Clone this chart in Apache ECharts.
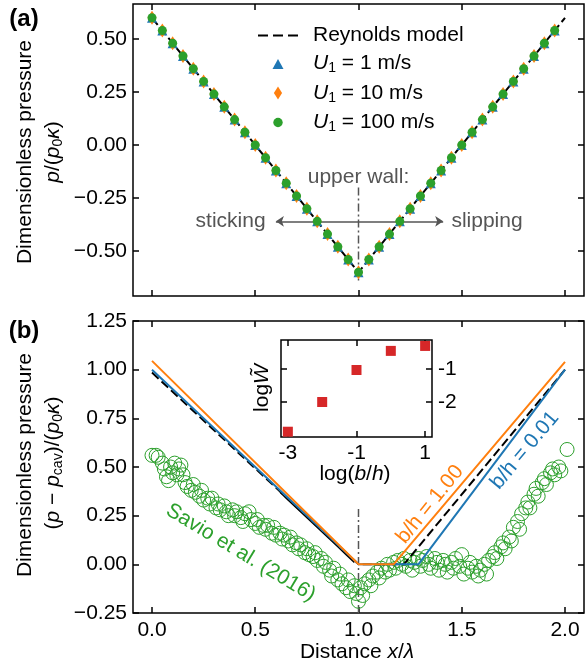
<!DOCTYPE html>
<html>
<head>
<meta charset="utf-8">
<script src="https://cdn.jsdelivr.net/npm/echarts@6.0.0/dist/echarts.min.js"></script>
<style>
html, body { margin: 0; padding: 0; background: #fff; }
#chart { width: 586px; height: 669px; }
</style>
</head>
<body>
<div id="chart"></div>
<script>
// ---- panel (a) data ----
const xA = [0.00,0.05,0.10,0.15,0.20,0.25,0.30,0.35,0.40,0.45,0.50,0.55,0.60,0.65,0.70,0.75,0.80,0.85,0.90,0.95,
            1.00,1.05,1.10,1.15,1.20,1.25,1.30,1.35,1.40,1.45,1.50,1.55,1.60,1.65,1.70,1.75,1.80,1.85,1.90,1.95]
const u1 = [0.60,0.54,0.48,0.42,0.36,0.30,0.24,0.18,0.12,0.06,0.00,-0.06,-0.12,-0.18,-0.24,-0.30,-0.36,-0.42,-0.48,-0.54,
            -0.60,-0.54,-0.48,-0.42,-0.36,-0.30,-0.24,-0.18,-0.12,-0.06,0.00,0.06,0.12,0.18,0.24,0.30,0.36,0.42,0.48,0.54]
const u10 = [0.60,0.54,0.48,0.42,0.36,0.30,0.24,0.18,0.12,0.06,0.00,-0.06,-0.12,-0.18,-0.24,-0.30,-0.36,-0.42,-0.48,-0.54,
             -0.60,-0.54,-0.48,-0.42,-0.36,-0.30,-0.24,-0.18,-0.12,-0.06,0.00,0.06,0.12,0.18,0.24,0.30,0.36,0.42,0.48,0.54]
const u100 = [0.60,0.54,0.48,0.42,0.36,0.30,0.24,0.18,0.12,0.06,0.00,-0.06,-0.12,-0.18,-0.24,-0.30,-0.36,-0.42,-0.48,-0.54,
              -0.60,-0.54,-0.48,-0.42,-0.36,-0.30,-0.24,-0.18,-0.12,-0.06,0.00,0.06,0.12,0.18,0.24,0.30,0.36,0.42,0.48,0.54]
const reynoldsA = [[0, 0.60], [1, -0.60], [2, 0.60]]
const wallA = [[1, -0.20], [1, -0.65]]
const arrowsA = [[[1, -0.36], [0.60, -0.36]], [[1, -0.36], [1.41, -0.36]]]

// ---- panel (b) data ----
const reynoldsB = [[0, 0.985], [1, 0.0], [1.22, 0.0], [2, 1.0]]
const mdB = [[0.62, 0.37], [0.66, 0.33], [0.70, 0.29], [0.74, 0.25], [0.78, 0.21], [0.82, 0.17], [0.86, 0.13], [0.90, 0.09], [0.94, 0.05], [0.98, 0.01]]
const bh100 = [[0, 1.045], [1, 0.0], [1.17, 0.0], [2, 1.04]]
const bh001 = [[0, 1.0], [1, 0.0], [1.29, 0.0], [2, 1.0]]
const wallB = [[1, -0.25], [1, 0.30]]
const savio = [
  [0.00,0.56],[0.02,0.56],[0.03,0.55],[0.05,0.52],[0.06,0.49],[0.07,0.45],[0.08,0.43],[0.09,0.50],[0.10,0.47],[0.11,0.52],
  [0.12,0.46],[0.13,0.49],[0.14,0.51],[0.15,0.46],[0.16,0.42],[0.17,0.40],[0.19,0.38],[0.20,0.41],[0.21,0.37],[0.23,0.35],
  [0.24,0.38],[0.25,0.33],[0.27,0.34],[0.28,0.31],[0.29,0.34],[0.31,0.29],[0.32,0.31],[0.33,0.28],[0.35,0.30],[0.36,0.27],
  [0.37,0.25],[0.39,0.28],[0.40,0.25],[0.41,0.27],[0.43,0.24],[0.44,0.22],[0.45,0.26],[0.47,0.27],[0.48,0.23],[0.50,0.21],
  [0.51,0.23],[0.52,0.19],[0.54,0.20],[0.55,0.18],[0.56,0.20],[0.58,0.16],[0.59,0.19],[0.60,0.15],[0.62,0.16],[0.63,0.13],
  [0.64,0.15],[0.66,0.12],[0.67,0.14],[0.68,0.10],[0.70,0.11],[0.71,0.08],[0.72,0.10],[0.74,0.06],[0.75,0.08],[0.76,0.05],
  [0.78,0.04],[0.79,0.06],[0.80,0.02],[0.82,0.03],[0.83,-0.01],[0.84,0.01],[0.86,-0.03],[0.87,-0.06],[0.88,-0.02],[0.90,-0.08],
  [0.91,-0.05],[0.92,-0.10],[0.94,-0.12],[0.95,-0.08],[0.96,-0.14],[0.98,-0.11],[0.99,-0.15],[1.00,-0.19],[1.01,-0.12],[1.02,-0.16],
  [1.03,-0.10],[1.05,-0.08],[1.06,-0.11],[1.07,-0.06],[1.09,-0.04],[1.10,-0.07],[1.11,-0.02],[1.13,-0.04],[1.14,0.00],[1.15,-0.03],
  [1.17,0.01],[1.18,-0.02],[1.19,0.02],[1.21,0.00],[1.22,0.03],[1.23,-0.01],[1.25,0.02],[1.26,-0.03],[1.27,0.01],[1.29,0.03],
  [1.30,-0.01],[1.31,0.02],[1.33,0.04],[1.34,0.00],[1.35,-0.02],[1.37,0.03],[1.38,0.01],[1.39,-0.03],[1.41,0.02],[1.42,0.00],
  [1.43,-0.04],[1.45,0.01],[1.46,-0.02],[1.47,0.03],[1.49,-0.01],[1.50,0.05],[1.51,-0.05],[1.53,-0.02],[1.54,0.01],[1.55,-0.04],
  [1.57,-0.01],[1.58,-0.06],[1.59,-0.03],[1.61,0.00],[1.62,-0.05],[1.63,0.02],[1.65,0.04],[1.66,0.06],[1.67,0.03],[1.69,0.09],
  [1.70,0.11],[1.71,0.08],[1.73,0.14],[1.74,0.12],[1.75,0.19],[1.77,0.22],[1.78,0.18],[1.79,0.26],[1.81,0.29],[1.82,0.32],
  [1.83,0.29],[1.85,0.36],[1.86,0.39],[1.87,0.35],[1.89,0.42],[1.90,0.44],[1.91,0.41],[1.93,0.47],[1.94,0.49],[1.95,0.46],
  [1.97,0.50],[1.98,0.48],[2.01,0.59]
]

// ---- inset data ----
const logBH = [-3, -2, -1, 0, 1]
const logW = [-2.9, -2.0, -1.03, -0.45, -0.30]

// ticks
const xTicks = [0, 0.5, 1.0, 1.5, 2.0]
const yTicksA = [-0.5, -0.25, 0, 0.25, 0.5]
const yTicksB = [-0.25, 0, 0.25, 0.5, 0.75, 1.0, 1.25]
const xTicksIn = [-3, -1, 1]
const yTicksIn = [-2, -1]

const FONT = '"Liberation Sans", Arial, sans-serif'
const BLUE = '#1f77b4', ORANGE = '#ff7f0e', GREEN = '#2ca02c', RED = '#d62728', GREY = '#555555'

const fmt2 = v => (v < 0 ? '\u2212' : '') + Math.abs(v).toFixed(2)
const fmt1 = v => v.toFixed(1)

const subRich = {
    i: { fontStyle: 'italic', fontSize: 21, fontFamily: FONT, lineHeight: 24, verticalAlign: 'middle' },
    s: { fontSize: 14, fontFamily: FONT, lineHeight: 10, verticalAlign: 'bottom' },
    n: { fontSize: 21, fontFamily: FONT, lineHeight: 24, verticalAlign: 'middle' }
}

function axis(gridIndex, min, max, ticks, position, fmt, margin) {
    return {
        type: 'value', gridIndex, min, max, position,
        axisLine: { show: false, onZero: false },
        splitLine: { show: false },
        axisTick: {
            show: true, inside: true, length: 6, customValues: ticks,
            lineStyle: { color: '#000', width: 1.5 }
        },
        axisLabel: fmt ? {
            show: true, customValues: ticks, formatter: fmt, margin: margin,
            color: '#000', fontSize: 21, fontFamily: FONT
        } : { show: false }
    }
}

const chart = echarts.init(document.getElementById('chart'))

const option = {
    animation: false,
    backgroundColor: '#fff',
    grid: [
        { left: 133, top: 4, width: 451, height: 292, show: true, borderColor: '#000', borderWidth: 1.5, backgroundColor: 'transparent' },
        { left: 133, top: 321, width: 451, height: 292, show: true, borderColor: '#000', borderWidth: 1.5, backgroundColor: 'transparent' },
        { left: 281, top: 340, width: 151, height: 97, show: true, borderColor: '#000', borderWidth: 1.5, backgroundColor: '#fff', z: 5 }
    ],
    xAxis: [
        axis(0, -0.092, 2.092, xTicks, 'bottom', null),
        axis(0, -0.092, 2.092, xTicks, 'top', null),
        axis(1, -0.092, 2.092, xTicks, 'bottom', fmt1, 7),
        axis(1, -0.092, 2.092, xTicks, 'top', null),
        Object.assign(axis(2, -3.2, 1.2, xTicksIn, 'bottom', v => String(v), 6), { z: 6 }),
        Object.assign(axis(2, -3.2, 1.2, xTicksIn, 'top', null), { z: 6 })
    ],
    yAxis: [
        axis(0, -0.712, 0.665, yTicksA, 'left', fmt2, 6),
        axis(0, -0.712, 0.665, yTicksA, 'right', null),
        axis(1, -0.25, 1.25, yTicksB, 'left', fmt2, 6),
        axis(1, -0.25, 1.25, yTicksB, 'right', null),
        Object.assign(axis(2, -3.06, -0.12, yTicksIn, 'left', null), { z: 6 }),
        Object.assign(axis(2, -3.06, -0.12, yTicksIn, 'right', v => String(v), 6), { z: 6 })
    ],
    legend: {
        left: 253, top: 20, orient: 'vertical',
        itemWidth: 40, itemHeight: 13, itemGap: 7,
        data: [
            { name: 'Reynolds model', icon: 'path://M0,0L10,0L10,2L0,2Z M15,0L25,0L25,2L15,2Z M30,0L40,0L40,2L30,2Z' },
            { name: 'U1 = 1 m/s', icon: 'path://M0,0M13,13M1,12L6.5,2L12,12Z' },
            { name: 'U1 = 10 m/s', icon: 'path://M0,0M13,13M6.5,0L10.6,6.5L6.5,13L2.4,6.5Z' },
            { name: 'U1 = 100 m/s', icon: 'path://M0,0M13,13M1.8,6.5A4.7,4.7,0,1,1,11.2,6.5A4.7,4.7,0,1,1,1.8,6.5Z' }
        ],
        formatter: name => name.startsWith('U1') ? '{i|U}{s|1}{n|' + name.slice(2) + '}' : '{n|' + name + '}',
        textStyle: {
            color: '#000', fontSize: 21, fontFamily: FONT, padding: [0, 0, 0, 10],
            rich: subRich
        }
    },
    series: [
        // panel (a)
        {
            name: 'Reynolds model', type: 'line', xAxisIndex: 0, yAxisIndex: 0,
            data: reynoldsA, symbol: 'none', z: 2,
            lineStyle: { color: '#000', width: 2, type: [9, 4] },
            itemStyle: { color: '#000' }
        },
        {
            name: 'U1 = 1 m/s', type: 'scatter', xAxisIndex: 0, yAxisIndex: 0,
            data: xA.map((x, i) => [x, u1[i]]), symbol: 'triangle', symbolSize: 10, z: 3,
            itemStyle: { color: BLUE, opacity: 1 }
        },
        {
            name: 'U1 = 10 m/s', type: 'scatter', xAxisIndex: 0, yAxisIndex: 0,
            data: xA.map((x, i) => [x, u10[i]]), symbol: 'diamond', symbolSize: [9, 14], z: 4,
            itemStyle: { color: ORANGE, opacity: 1 }
        },
        {
            name: 'U1 = 100 m/s', type: 'scatter', xAxisIndex: 0, yAxisIndex: 0,
            data: xA.map((x, i) => [x, u100[i]]), symbol: 'circle', symbolSize: 9, z: 5,
            itemStyle: { color: GREEN, opacity: 1 }
        },
        {
            type: 'line', xAxisIndex: 0, yAxisIndex: 0, data: wallA, symbol: 'none', z: 1,
            lineStyle: { color: GREY, width: 1.5, type: [8, 3, 2, 3] }
        },
        {
            type: 'lines', coordinateSystem: 'cartesian2d', xAxisIndex: 0, yAxisIndex: 0,
            symbol: ['none', 'arrow'], symbolSize: 8, z: 1,
            data: arrowsA.map(c => ({ coords: c })),
            lineStyle: { color: GREY, width: 1.5, opacity: 1 }
        },
        // panel (b)
        {
            type: 'scatter', xAxisIndex: 2, yAxisIndex: 2, data: savio,
            symbol: 'circle', symbolSize: 14, z: 2,
            itemStyle: { color: 'rgba(0,0,0,0)', borderColor: GREEN, borderWidth: 1, opacity: 1 }
        },
        {
            type: 'line', xAxisIndex: 2, yAxisIndex: 2, data: wallB, symbol: 'none', z: 2,
            lineStyle: { color: GREY, width: 1.5, type: [8, 3, 2, 3] }
        },
        {
            type: 'line', xAxisIndex: 2, yAxisIndex: 2, data: mdB, symbol: 'none', z: 3,
            lineStyle: { color: '#000', width: 1.5 }
        },
        {
            type: 'line', xAxisIndex: 2, yAxisIndex: 2, data: reynoldsB, symbol: 'none', z: 3,
            lineStyle: { color: '#000', width: 2, type: [9, 4] }
        },
        {
            type: 'line', xAxisIndex: 2, yAxisIndex: 2, data: bh001, symbol: 'none', z: 4,
            lineStyle: { color: BLUE, width: 2 }
        },
        {
            type: 'line', xAxisIndex: 2, yAxisIndex: 2, data: bh100, symbol: 'none', z: 5,
            lineStyle: { color: ORANGE, width: 2 }
        },
        // inset
        {
            type: 'scatter', xAxisIndex: 4, yAxisIndex: 4,
            data: logBH.map((x, i) => [x, logW[i]]),
            symbol: 'rect', symbolSize: 10, z: 7,
            itemStyle: { color: RED, opacity: 1 }
        }
    ]
}

chart.setOption(option)

// annotations placed in data coordinates
const px = (xi, yi, p) => chart.convertToPixel({ xAxisIndex: xi, yAxisIndex: yi }, p)
const deg = d => d * Math.PI / 180

function txt(pos, text, color, opts) {
    const o = opts || {}
    return {
        type: 'text', x: pos[0], y: pos[1], rotation: o.rot || 0, z: 100,
        style: {
            text, fill: color, font: (o.weight || 'normal') + ' ' + (o.size || 21) + 'px ' + FONT,
            align: o.align || 'center', verticalAlign: 'middle', rich: o.rich
        }
    }
}

const graphics = [
    txt([24, 19], '(a)', '#000', { weight: 'bold', size: 24 }),
    txt([24, 331], '(b)', '#000', { weight: 'bold', size: 24 }),
    txt(px(0, 0, [1.0, -0.15]), 'upper wall:', GREY),
    txt(px(0, 0, [0.55, -0.36]), 'sticking', GREY, { align: 'right' }),
    txt(px(0, 0, [1.45, -0.36]), 'slipping', GREY, { align: 'left' }),
    txt(px(2, 2, [0.43, 0.06]), 'Savio et al. (2016)', GREEN, { rot: deg(-31) }),
    txt(px(2, 2, [1.346, 0.308]), 'b/h = 1.00', ORANGE, { rot: deg(51) }),
    txt(px(2, 2, [1.805, 0.585]), 'b/h = 0.01', BLUE, { rot: deg(50) }),
    // axis titles
    txt([25, 152], 'Dimensionless pressure', '#000', { rot: deg(90) }),
    txt([53, 152], '{i|p}{n|/(}{i|p}{s|0}{i|\u03ba}{n|)}', '#000', { rot: deg(90), rich: subRich }),
    txt([25, 465], 'Dimensionless pressure', '#000', { rot: deg(90) }),
    txt([53, 463], '{n|(}{i|p}{n| \u2212 }{i|p}{s|cav}{n|)/(}{i|p}{s|0}{i|\u03ba}{n|)}', '#000', { rot: deg(90), rich: subRich }),
    txt([357, 652], '{n|Distance }{i|x}{n|/}{i|\u03bb}', '#000', { rich: subRich }),
    txt([355, 474], '{n|log(}{i|b}{n|/}{i|h}{n|)}', '#000', { rich: subRich }),
    txt([262, 388], '{n|log}{i|W\u0303}', '#000', { rot: deg(90), rich: subRich })
]

chart.setOption({ graphic: graphics })

window.addEventListener('resize', function () {
    chart.resize()
})
</script>
</body>
</html>
